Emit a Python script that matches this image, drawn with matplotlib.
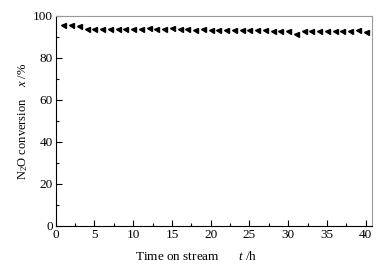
import numpy as np
import matplotlib
matplotlib.use('Agg')
import matplotlib.pyplot as plt
from matplotlib.ticker import MultipleLocator

plt.rcParams['font.family'] = ['Liberation Serif', 'DejaVu Serif']
plt.rcParams['mathtext.fontset'] = 'custom'
plt.rcParams['mathtext.rm'] = 'Liberation Serif'
plt.rcParams['mathtext.it'] = 'Liberation Serif:italic'

# time on stream (h) and N2O conversion (%)
time_h = list(range(1, 41))
conversion = [95.6, 95.6, 95.4, 93.9, 93.9, 93.8, 93.8, 93.9, 93.8, 93.9,
              93.8, 94.0, 93.7, 93.7, 94.2, 93.6, 93.6, 93.5, 93.6, 93.4,
              93.4, 93.3, 93.3, 93.2, 93.2, 93.3, 93.5, 92.7, 92.6, 92.8,
              91.6, 92.7, 93.0, 93.0, 93.0, 92.9, 92.9, 92.9, 93.4, 92.4]

fig = plt.figure(figsize=(3.91, 2.69), dpi=100)
ax = fig.add_axes([0.1425, 0.160, 0.8085, 0.781])

ax.plot(time_h, conversion, linestyle='none', marker='<', markersize=3.6,
        color='black')

ax.set_xlim(0, 40.8)
ax.set_ylim(0, 100)
ax.xaxis.set_major_locator(MultipleLocator(5))
ax.xaxis.set_minor_locator(MultipleLocator(2.5))
ax.yaxis.set_major_locator(MultipleLocator(20))
ax.yaxis.set_minor_locator(MultipleLocator(10))
ax.tick_params(which='both', direction='in', labelsize=9.5, width=0.8)
ax.tick_params(which='major', length=4)
ax.tick_params(which='minor', length=2)
ax.tick_params(axis='x', pad=2)
ax.tick_params(axis='y', pad=2)

for side in ['top', 'right']:
    ax.spines[side].set_color('#999999')
for side in ['left', 'bottom']:
    ax.spines[side].set_linewidth(0.8)

ax.set_xlabel('Time on stream      $t$ /h', fontsize=9.5)
ax.xaxis.set_label_coords(0.445, -0.115)
ax.set_ylabel('N$_2$O conversion    $x$ /%', fontsize=9, labelpad=2)

fig.savefig('out.png', dpi=100)
